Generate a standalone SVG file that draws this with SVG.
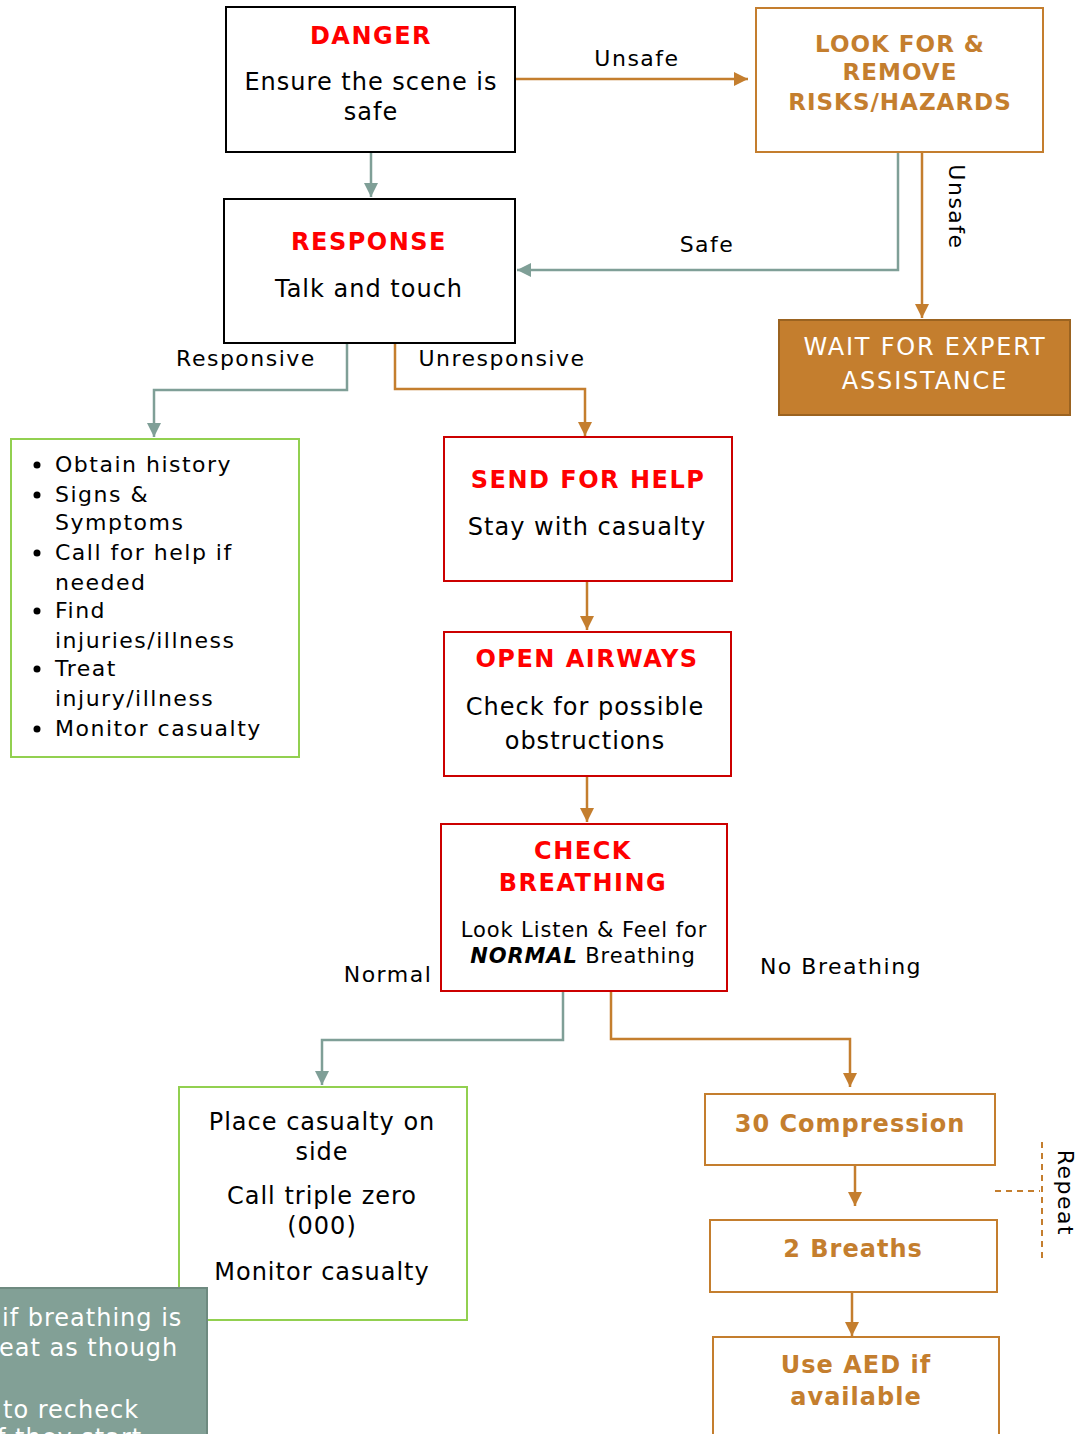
<svg xmlns="http://www.w3.org/2000/svg" width="1080" height="1434" viewBox="0 0 1080 1434">
<defs>
<marker id="ao" viewBox="0 0 10 10" refX="10" refY="5" markerWidth="14" markerHeight="14" markerUnits="userSpaceOnUse" orient="auto"><path d="M0,0 L10,5 L0,10 z" fill="#C47E2E"/></marker>
<marker id="ag" viewBox="0 0 10 10" refX="10" refY="5" markerWidth="14" markerHeight="14" markerUnits="userSpaceOnUse" orient="auto"><path d="M0,0 L10,5 L0,10 z" fill="#7F9F97"/></marker>
<style>
text{font-family:"DejaVu Sans","Verdana",sans-serif;}
.t{font-size:24px;fill:#000;letter-spacing:1px;text-anchor:middle;}
.h{font-size:24px;font-weight:bold;fill:#FF0000;letter-spacing:1.5px;text-anchor:middle;}
.ho{font-size:23px;font-weight:bold;fill:#C47E2E;letter-spacing:1px;text-anchor:middle;}
.l{font-size:22px;fill:#000;letter-spacing:1.5px;}
.bk{fill:#fff;stroke:#000;stroke-width:2;}
.or{fill:#fff;stroke:#C47E2E;stroke-width:2;}
.rd{fill:#fff;stroke:#CC0000;stroke-width:2;}
.gr{fill:#fff;stroke:#92D050;stroke-width:2;}
.co{fill:none;stroke:#C47E2E;stroke-width:2.5;marker-end:url(#ao);}
.cg{fill:none;stroke:#7F9F97;stroke-width:2.5;marker-end:url(#ag);}
</style>
</defs>
<rect width="1080" height="1434" fill="#fff"/>

<g id="connectors">
<path class="co" d="M515,79 H748"/>
<path class="cg" d="M371,152 V197"/>
<path class="cg" d="M898,152 V270 H517"/>
<path class="co" d="M922,152 V318"/>
<path class="cg" d="M347,343 V390 H154 V437"/>
<path class="co" d="M395,343 V389 H585 V436"/>
<path class="co" d="M587,581 V630"/>
<path class="co" d="M587,776 V822"/>
<path class="cg" d="M563,991 V1040 H322 V1085"/>
<path class="co" d="M611,991 V1039 H850 V1087"/>
<path class="co" d="M855,1160 V1206"/>
<path class="co" d="M852,1292 V1336"/>
<path d="M1042,1142 V1262 M995,1191 H1040" fill="none" stroke="#C47E2E" stroke-width="2" stroke-dasharray="6,5"/>
<text class="l" x="637" y="66" text-anchor="middle">Unsafe</text>
<text class="l" x="707" y="252" text-anchor="middle">Safe</text>
<text class="l" transform="translate(949,207) rotate(90)" text-anchor="middle">Unsafe</text>
<text class="l" x="246" y="366" text-anchor="middle">Responsive</text>
<text class="l" x="502" y="366" text-anchor="middle">Unresponsive</text>
<text class="l" x="388" y="982" text-anchor="middle">Normal</text>
<text class="l" x="841" y="974" text-anchor="middle">No Breathing</text>
<text class="l" transform="translate(1058,1193) rotate(90)" text-anchor="middle">Repeat</text>
</g>

<g id="danger">
<rect class="bk" x="226" y="7" width="289" height="145"/>
<text class="h" x="371" y="44">DANGER</text>
<text class="t" x="371" y="90">Ensure the scene is</text>
<text class="t" x="371" y="120">safe</text>
</g>

<g id="look">
<rect class="or" x="756" y="8" width="287" height="144"/>
<text class="ho" x="900" y="52">LOOK FOR &amp;</text>
<text class="ho" x="900" y="80">REMOVE</text>
<text class="ho" x="900" y="110">RISKS/HAZARDS</text>
</g>

<g id="response">
<rect class="bk" x="224" y="199" width="291" height="144"/>
<text class="h" x="369" y="250">RESPONSE</text>
<text class="t" x="369" y="297">Talk and touch</text>
</g>

<g id="wait">
<rect x="779" y="320" width="291" height="95" fill="#C47E2E" stroke="#9B6320" stroke-width="2"/>
<text class="t" x="925" y="355" style="fill:#fff;letter-spacing:1.8px">WAIT FOR EXPERT</text>
<text class="t" x="925" y="389" style="fill:#fff;letter-spacing:1.8px">ASSISTANCE</text>
</g>

<g id="responsive-actions">
<rect class="gr" x="11" y="439" width="288" height="318"/>
<g>
<circle cx="37" cy="465" r="3.5"/>
<circle cx="37" cy="495" r="3.5"/>
<circle cx="37" cy="553" r="3.5"/>
<circle cx="37" cy="611" r="3.5"/>
<circle cx="37" cy="669" r="3.5"/>
<circle cx="37" cy="729" r="3.5"/>
</g>
<text class="l" x="55" y="472">Obtain history</text>
<text class="l" x="55" y="502">Signs &amp;</text>
<text class="l" x="55" y="530">Symptoms</text>
<text class="l" x="55" y="560">Call for help if</text>
<text class="l" x="55" y="590">needed</text>
<text class="l" x="55" y="618">Find</text>
<text class="l" x="55" y="648">injuries/illness</text>
<text class="l" x="55" y="676">Treat</text>
<text class="l" x="55" y="706">injury/illness</text>
<text class="l" x="55" y="736">Monitor casualty</text>
</g>

<g id="send">
<rect class="rd" x="444" y="437" width="288" height="144"/>
<text class="h" x="588" y="488">SEND FOR HELP</text>
<text class="t" x="587" y="535">Stay with casualty</text>
</g>

<g id="airways">
<rect class="rd" x="444" y="632" width="287" height="144"/>
<text class="h" x="587" y="667">OPEN AIRWAYS</text>
<text class="t" x="585" y="715">Check for possible</text>
<text class="t" x="585" y="749">obstructions</text>
</g>

<g id="breathing">
<rect class="rd" x="441" y="824" width="286" height="167"/>
<text class="h" x="583" y="859">CHECK</text>
<text class="h" x="583" y="891">BREATHING</text>
<text class="t" x="584" y="937" style="font-size:21px;letter-spacing:0.9px">Look Listen &amp; Feel for</text>
<text class="t" x="583" y="963" style="font-size:21px;letter-spacing:0.9px"><tspan font-weight="bold" font-style="italic">NORMAL</tspan> Breathing</text>
</g>

<g id="recovery">
<rect class="gr" x="179" y="1087" width="288" height="233"/>
<text class="t" x="322" y="1130">Place casualty on</text>
<text class="t" x="322" y="1160">side</text>
<text class="t" x="322" y="1204">Call triple zero</text>
<text class="t" x="322" y="1234">(000)</text>
<text class="t" x="322" y="1280">Monitor casualty</text>
</g>

<g id="compression">
<rect class="or" x="705" y="1094" width="290" height="71"/>
<text class="ho" x="850" y="1132" style="font-size:24px">30 Compression</text>
</g>

<g id="breaths">
<rect class="or" x="710" y="1220" width="287" height="72"/>
<text class="ho" x="853" y="1257" style="font-size:24px">2 Breaths</text>
</g>

<g id="aed">
<rect class="or" x="713" y="1337" width="286" height="110"/>
<text class="ho" x="856" y="1373" style="font-size:24px">Use AED if</text>
<text class="ho" x="856" y="1405" style="font-size:24px">available</text>
</g>

<g id="note">
<rect x="-10" y="1288" width="217" height="160" fill="#82A096" stroke="#6E8A80" stroke-width="2"/>
<g style="fill:#fff;font-size:24px;letter-spacing:1px">
<text x="2" y="1326">if breathing is</text>
<text x="-1" y="1356">eat as though</text>
<text x="3" y="1418">to recheck</text>
<text x="-3" y="1446">f they start</text>
</g>
</g>
</svg>
